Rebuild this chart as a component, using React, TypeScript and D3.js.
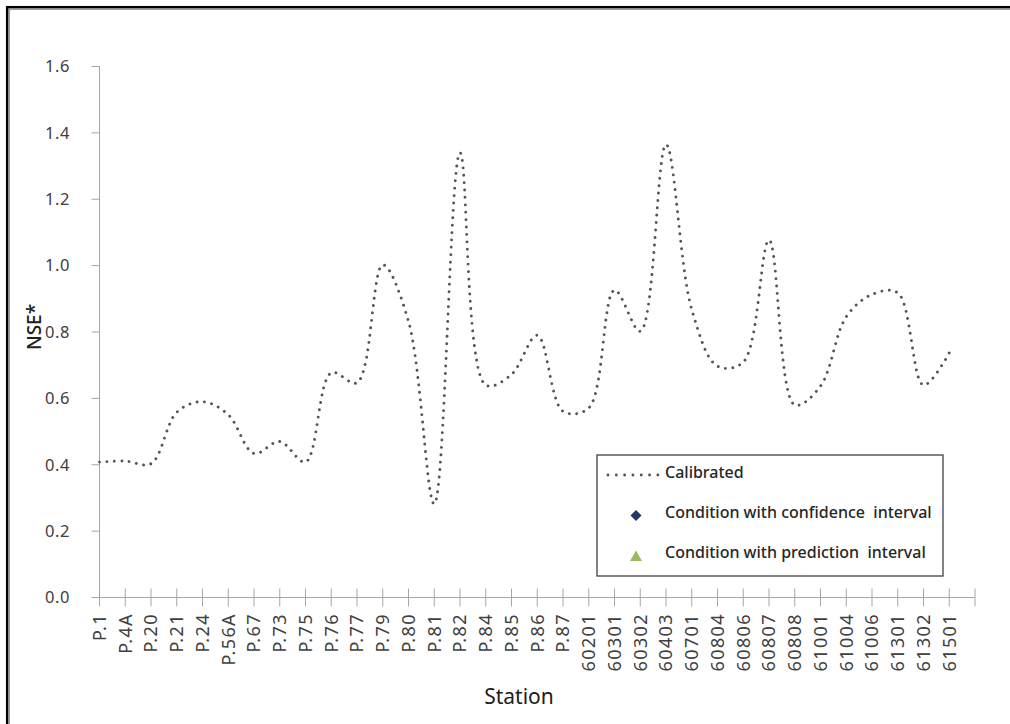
import React from "react";
import * as d3 from "d3";

const stations: string[] = [
  "P.1", "P.4A", "P.20", "P.21", "P.24", "P.56A", "P.67", "P.73", "P.75", "P.76",
  "P.77", "P.79", "P.80", "P.81", "P.82", "P.84", "P.85", "P.86", "P.87",
  "60201", "60301", "60302", "60403", "60701", "60804", "60806", "60807", "60808",
  "61001", "61004", "61006", "61301", "61302", "61501",
];

const calibrated: number[] = [
  0.408, 0.411, 0.403, 0.558, 0.59, 0.551, 0.434, 0.47, 0.408, 0.677,
  0.647, 1.002, 0.832, 0.282, 1.34, 0.64, 0.672, 0.79, 0.561,
  0.571, 0.926, 0.802, 1.365, 0.868, 0.697, 0.709, 1.077, 0.58,
  0.637, 0.846, 0.913, 0.918, 0.64, 0.737,
];

const yTicks: number[] = [0, 0.2, 0.4, 0.6, 0.8, 1.0, 1.2, 1.4, 1.6];

const legendItems: string[] = [
  "Calibrated",
  "Condition with confidence  interval",
  "Condition with prediction  interval",
];

const W = 1010;
const H = 724;
const FONT = "'Noto Sans', 'Open Sans', sans-serif";

export default function App() {
  const x = d3.scaleLinear().domain([0, stations.length]).range([99.5, 975]);
  const y = d3.scaleLinear().domain([0, 1.6]).range([597.5, 66.5]);

  const line = d3
    .line<number>()
    .x((_, i) => x(i))
    .y((d) => y(d))
    .curve(d3.curveCatmullRom.alpha(0.5));

  const tickIdx = d3.range(stations.length + 1);
  const axisColor = "#a6a6a6";
  const textColor = "#404040";

  const lx = 597;
  const ly = 455;

  return (
    <svg
      width={W}
      height={H}
      style={{ position: "absolute", left: 0, top: 0, background: "#fff" }}
      fontFamily={FONT}
    >
      <rect x={0} y={0} width={W} height={H} fill="#fff" />
      {/* frame */}
      <rect x={7.2} y={7.2} width={1200} height={900} fill="none" stroke="#000" strokeWidth={2.5} />
      <rect x={9.2} y={9.2} width={1200} height={900} fill="none" stroke="#8c8c8c" strokeWidth={1.3} />

      {/* y axis */}
      <line x1={x(0)} x2={x(0)} y1={y(0)} y2={y(1.6)} stroke={axisColor} strokeWidth={1} />
      {yTicks.map((t) => (
        <g key={t}>
          <line x1={x(0) - 8} x2={x(0)} y1={y(t)} y2={y(t)} stroke={axisColor} strokeWidth={1} />
          <text
            x={70}
            y={y(t)}
            dy="0.35em"
            textAnchor="end"
            fontSize={16.5}
            letterSpacing={0.6}
            fill={textColor}
          >
            {t.toFixed(1)}
          </text>
        </g>
      ))}

      {/* x axis */}
      <line x1={x(0)} x2={x(stations.length)} y1={y(0)} y2={y(0)} stroke={axisColor} strokeWidth={1} />
      {tickIdx.map((i) => (
        <line key={i} x1={x(i)} x2={x(i)} y1={y(0) - 9} y2={y(0) + 9} stroke={axisColor} strokeWidth={1} />
      ))}
      {stations.map((s, i) => (
        <text
          key={s}
          transform={`translate(${x(i)},613) rotate(-90)`}
          dy="0.36em"
          textAnchor="end"
          fontSize={18}
          letterSpacing={1.4}
          fill={textColor}
        >
          {s}
        </text>
      ))}

      {/* axis titles */}
      <text
        transform={`translate(34,327) rotate(-90)`}
        dy="0.35em"
        textAnchor="middle"
        fontSize={19}
        fontWeight={500}
        fill="#202020"
      >
        NSE*
      </text>
      <text x={519} y={704} textAnchor="middle" fontSize={21} fill="#202020">
        Station
      </text>

      {/* calibrated line */}
      <path
        d={line(calibrated) || ""}
        fill="none"
        stroke="#555555"
        strokeWidth={2.9}
        strokeDasharray="0.01 7.4"
        strokeLinecap="round"
      />

      {/* legend */}
      <rect x={lx} y={ly} width={346} height={121} fill="#fff" stroke="#404040" strokeWidth={1.3} />
      <line
        x1={608}
        x2={658}
        y1={475}
        y2={475}
        stroke="#555555"
        strokeWidth={2.9}
        strokeDasharray="0.01 8.3"
        strokeLinecap="round"
      />
      <path d="M636,510 L641.5,515.5 L636,521 L630.5,515.5 Z" fill="#1f3864" />
      <path d="M636,550.5 L642,561 L630,561 Z" fill="#9bbb59" />
      {legendItems.map((t, i) => (
        <text
          key={t}
          x={665}
          y={472 + i * 40}
          dy="0.35em"
          fontSize={16}
          fontWeight={500}
          fill="#262626"
          style={{ whiteSpace: "pre" }}
        >
          {t}
        </text>
      ))}
    </svg>
  );
}
